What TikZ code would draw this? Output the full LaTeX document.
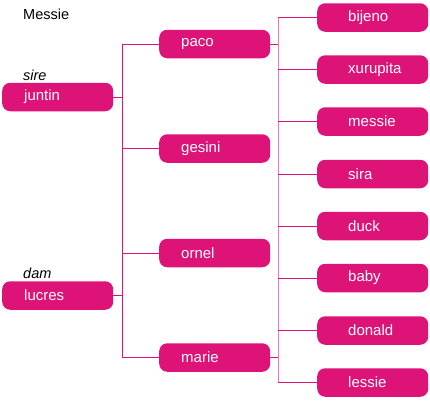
\documentclass[tikz,border=0pt]{standalone}
\usepackage{fontspec}
\setmainfont{Liberation Sans}
\definecolor{mag}{RGB}{222,19,120}
\definecolor{lightmag}{RGB}{242,120,175}
\begin{document}
\begin{tikzpicture}[x=1pt,y=-1pt,
  box/.style={rectangle, rounded corners=8pt, fill=mag, text=white, anchor=west,
    inner xsep=0pt, inner ysep=0pt, text width=111pt, minimum height=28.5pt, align=left,
    font=\fontsize{15}{17}\selectfont},
  pbox/.style={box, execute at begin node={\hspace*{22pt}}},
  lbox/.style={box, execute at begin node={\hspace*{31pt}}},
  conn/.style={draw=mag, line width=1pt},
  vconn/.style={draw=lightmag, line width=1pt},
  lab/.style={anchor=base west, inner sep=0pt, font=\fontsize{14.5}{17}\selectfont}
]
\useasboundingbox (0,0) rectangle (430,400);
\node[lab] (title) at (23,19) {Messie};
\node[lab, font=\fontsize{14.5}{17}\selectfont\itshape] (sire) at (23,80) {sire};
\node[lab, font=\fontsize{14.5}{17}\selectfont\itshape] (dam) at (23,278) {dam};

\node[pbox] (juntin) at (2,97) {juntin};
\node[pbox] (lucres) at (2,295.5) {lucres};

\node[pbox] (paco) at (159,44) {paco};
\node[pbox] (gesini) at (159,148.5) {gesini};
\node[pbox] (ornel) at (159,253) {ornel};
\node[pbox] (marie) at (159,357.5) {marie};

\node[lbox] (bijeno) at (317,17.5) {bijeno};
\node[lbox] (xurupita) at (317,69.5) {xurupita};
\node[lbox] (messie) at (317,121.5) {messie};
\node[lbox] (sira) at (317,174) {sira};
\node[lbox] (duck) at (317,226) {duck};
\node[lbox] (baby) at (317,278) {baby};
\node[lbox] (donald) at (317,330.5) {donald};
\node[lbox] (lessie) at (317,382.5) {lessie};

\coordinate (v1top) at (122,44);
\coordinate (v1bot) at (122,357.5);
\draw[conn] (v1top) -- (v1bot);
\draw[conn] (juntin.east) -- (juntin.east -| v1top);
\draw[conn] (lucres.east) -- (lucres.east -| v1top);
\foreach \n in {paco,gesini,ornel,marie}
  \draw[conn] (\n.west -| v1top) -- (\n.west);

\coordinate (v2top) at (278,17.5);
\coordinate (v2bot) at (278,382.5);
\draw[vconn] (v2top) -- (v2bot);
\draw[conn] (paco.east) -- (paco.east -| v2top);
\draw[conn] (marie.east) -- (marie.east -| v2top);
\foreach \n in {bijeno,xurupita,messie,sira,duck,baby,donald,lessie}
  \draw[conn] (\n.west -| v2top) -- (\n.west);
\end{tikzpicture}
\end{document}
